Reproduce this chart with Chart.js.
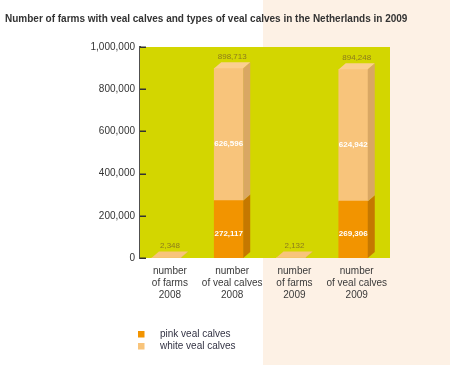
<!DOCTYPE html>
<html>
<head>
<meta charset="utf-8">
<script src="https://cdn.jsdelivr.net/npm/chart.js@4.4.1/dist/chart.umd.min.js"></script>
<style>
  html, body { margin: 0; padding: 0; }
  body {
    width: 450px; height: 365px; overflow: hidden;
    background: linear-gradient(to right, #ffffff 0, #ffffff 263px, #fdf1e5 263px, #fdf1e5 100%);
  }
  #wrap { position: relative; width: 450px; height: 365px; }
</style>
</head>
<body>
<div id="wrap"><canvas id="chartBox"></canvas></div>
<script>
const chartTitle = 'Number of farms with veal calves and types of veal calves in the Netherlands in 2009';
const categories = [
  ["number", "of farms", "2008"],
  ["number", "of veal calves", "2008"],
  ["number", "of farms", "2009"],
  ["number", "of veal calves", "2009"]
];
const farms = [2348, null, 2132, null];
const pinkCalves = [null, 272117, null, 269306];
const whiteCalves = [null, 626596, null, 624942];
const yTicks = [0, 200000, 400000, 600000, 800000, 1000000];

const FONT = "'Liberation Sans', Arial, sans-serif";
const depthX = 7, depthY = 6;
const fmt = v => v.toLocaleString('en-US');

// green plot background
const plotBg = {
  id: 'plotBg',
  beforeDatasetsDraw(chart) {
    const a = chart.chartArea, ctx = chart.ctx;
    ctx.save();
    ctx.fillStyle = '#d3d600';
    ctx.fillRect(a.left, a.top, a.right - a.left, a.bottom - a.top);
    ctx.restore();
  }
};

// side + top faces for the 3d look, and the value labels
const bars3d = {
  id: 'bars3d',
  afterDatasetsDraw(chart) {
    const ctx = chart.ctx;
    const metas = chart.getSortedVisibleDatasetMetas();
    ctx.save();
    categories.forEach((c, i) => {
      let top = null, total = 0;
      metas.forEach(meta => {
        const ds = chart.data.datasets[meta.index];
        const v = ds.data[i].y;
        const el = meta.data[i];
        if (!el || v == null) return;
        total += v;
        const r = el.x + el.width / 2;
        ctx.fillStyle = ds.sideColor;
        ctx.beginPath();
        ctx.moveTo(r, el.y);
        ctx.lineTo(r + depthX, el.y - depthY);
        ctx.lineTo(r + depthX, el.base - depthY);
        ctx.lineTo(r, el.base);
        ctx.closePath();
        ctx.fill();
        top = { el, ds };
      });
      if (!top) return;
      const el = top.el;
      const l = el.x - el.width / 2, r = el.x + el.width / 2;
      ctx.fillStyle = top.ds.topColor;
      ctx.beginPath();
      ctx.moveTo(l, el.y);
      ctx.lineTo(l + depthX, el.y - depthY);
      ctx.lineTo(r + depthX, el.y - depthY);
      ctx.lineTo(r, el.y);
      ctx.closePath();
      ctx.fill();
      // total above bar
      ctx.fillStyle = '#8c7c1c';
      ctx.font = '8px ' + FONT;
      ctx.textAlign = 'center';
      ctx.textBaseline = 'middle';
      ctx.fillText(fmt(total), el.x + depthX / 2, el.y - depthY - 6);
    });
    // segment labels
    metas.forEach(meta => {
      const ds = chart.data.datasets[meta.index];
      if (!ds.inner) return;
      meta.data.forEach((el, i) => {
        const v = ds.data[i].y;
        if (v == null) return;
        const h = el.base - el.y;
        ctx.fillStyle = '#ffffff';
        ctx.font = 'bold 8px ' + FONT;
        ctx.textAlign = 'center';
        ctx.textBaseline = 'middle';
        ctx.fillText(fmt(v), el.x, (el.y + el.base) / 2 + h * 0.07);
      });
    });
    ctx.restore();
  },
  afterDraw(chart) {
    const ctx = chart.ctx, a = chart.chartArea, ys = chart.scales.y;
    ctx.save();
    // title (drawn here so it can run past the plot's right edge)
    ctx.fillStyle = '#333';
    ctx.font = 'bold 10px ' + FONT;
    ctx.textAlign = 'left';
    ctx.textBaseline = 'middle';
    ctx.fillText(chartTitle, 5, 19);
    // tick marks pointing into the plot
    ctx.strokeStyle = '#333';
    ctx.lineWidth = 1.5;
    yTicks.forEach(v => {
      const y = Math.round(ys.getPixelForValue(v)) + 0.25;
      ctx.beginPath();
      ctx.moveTo(a.left, y);
      ctx.lineTo(a.left + 6, y);
      ctx.stroke();
    });
    // legend
    const items = chart.data.datasets.filter(d => d.inLegend);
    ctx.font = '10px ' + FONT;
    ctx.textAlign = 'left';
    ctx.textBaseline = 'middle';
    items.forEach((d, k) => {
      const y = chart.height - 31 + k * 12;
      ctx.fillStyle = d.backgroundColor;
      ctx.fillRect(a.left - 2, y - 3, 6.5, 6.5);
      ctx.fillStyle = '#333344';
      ctx.fillText(d.label, a.left + 20, y);
    });
    ctx.restore();
  }
};

const toPoints = arr => arr.map((v, i) => ({ x: i, y: v }));

new Chart(document.querySelector('#chartBox').getContext('2d'), {
  type: 'bar',
  data: {
    datasets: [
      {
        label: 'pink veal calves',
        data: toPoints(pinkCalves),
        backgroundColor: '#f29400',
        sideColor: '#c57800',
        topColor: '#f7ad3c',
        inLegend: true,
        inner: true
      },
      {
        label: 'white veal calves',
        data: toPoints(whiteCalves),
        backgroundColor: '#f8c47b',
        sideColor: '#d9a763',
        topColor: '#fbcf91',
        inLegend: true,
        inner: true
      },
      {
        label: 'number of farms',
        data: toPoints(farms),
        backgroundColor: '#f8c47b',
        sideColor: '#d9a763',
        topColor: '#f8c47b'
      }
    ]
  },
  options: {
    responsive: true,
    maintainAspectRatio: false,
    animation: false,
    layout: { padding: { left: 5, right: 60, top: 47, bottom: 57 } },
    datasets: { bar: { barThickness: 29, borderWidth: 0 } },
    plugins: {
      legend: { display: false },
      tooltip: { enabled: false },
      title: { display: false }
    },
    scales: {
      x: {
        type: 'linear',
        stacked: true,
        offset: false,
        min: -0.425,
        max: 3.59,
        afterBuildTicks: axis => { axis.ticks = categories.map((c, i) => ({ value: i + 0.055 })); },
        grid: { display: false, drawTicks: false, offset: false },
        border: { display: false },
        ticks: {
          autoSkip: false,
          maxRotation: 0,
          padding: 7,
          color: '#3a3a3a',
          font: { family: FONT, size: 10 },
          callback: (v, i) => categories[i]
        }
      },
      y: {
        stacked: true,
        min: 0,
        max: 1000000,
        afterBuildTicks: axis => { axis.ticks = yTicks.map(v => ({ value: v })); },
        afterFit: scale => { scale.width = 135; },
        grid: { display: false, drawTicks: false },
        border: { display: true, color: '#505050', width: 2 },
        ticks: {
          padding: 5,
          color: '#333',
          font: { family: FONT, size: 10 },
          callback: v => fmt(v)
        }
      }
    }
  },
  plugins: [plotBg, bars3d]
});
</script>
</body>
</html>
